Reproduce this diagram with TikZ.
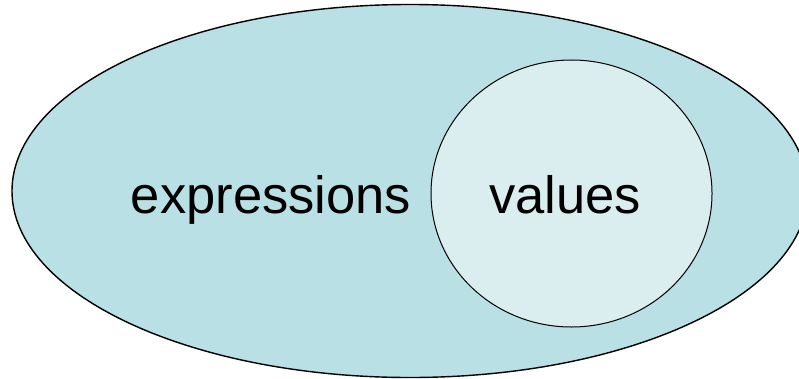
\documentclass[tikz,border=0pt]{standalone}
\usepackage{fontspec}
\setmainfont{Liberation Sans}
\usetikzlibrary{shapes.geometric}

\definecolor{outerfill}{RGB}{185,224,228}
\definecolor{innerfill}{RGB}{218,237,239}

\tikzset{
  setshape/.style={ellipse, draw=black, inner sep=0pt},
  setlabel/.style={anchor=base, inner sep=0pt, font=\fontsize{52.5}{60}\selectfont}
}

\begin{document}
\begin{tikzpicture}[x=1pt,y=1pt]
	  \useasboundingbox (0,0) rectangle (799,378);
	  % outer set
	  \node[setshape, line width=1.4pt, fill=outerfill,
	        minimum width=796pt, minimum height=373pt] (exprset) at (410,187) {};
	  % inner set
	  \node[setshape, line width=1pt, fill=innerfill,
	        minimum width=281pt, minimum height=267pt] (valset) at (571.5,184.5) {};
	  % labels
	  \node[setlabel] (exprlabel) at (271,165) {expressions};
	  \node[setlabel] (vallabel) at (565,165) {values};
	\end{tikzpicture}
\end{document}
